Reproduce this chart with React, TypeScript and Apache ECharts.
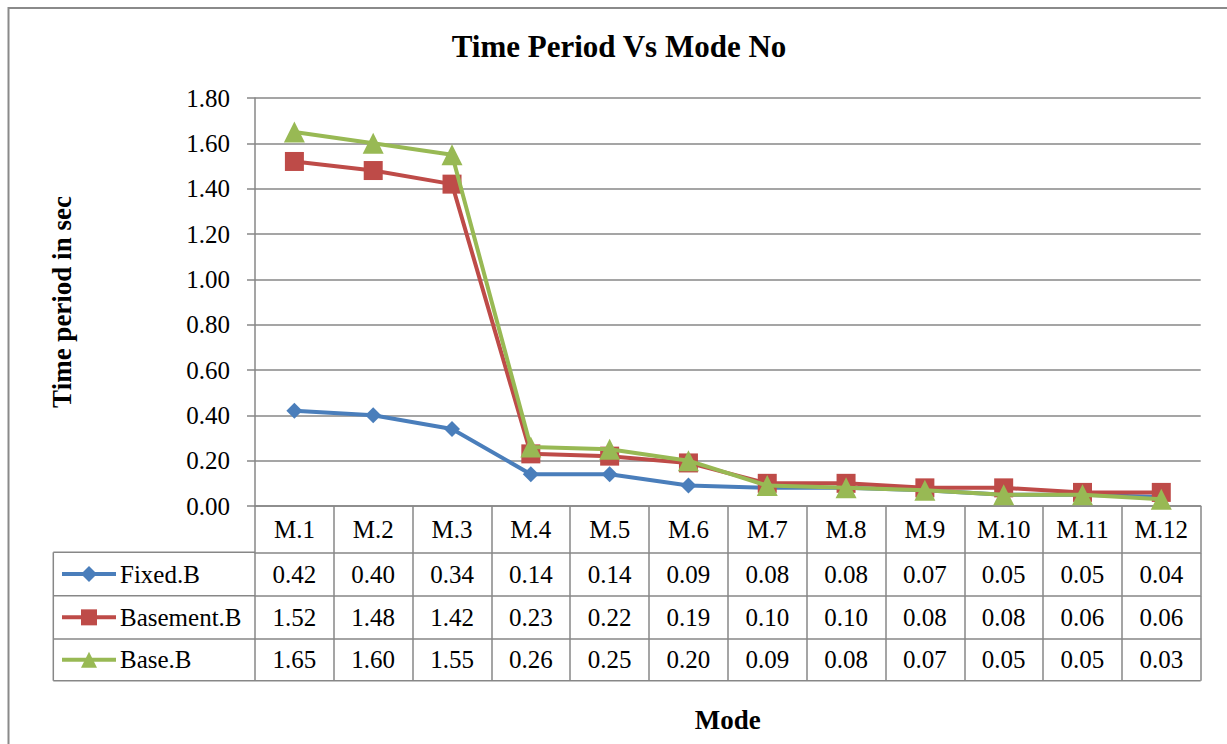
import React, { useEffect, useRef } from "react";
import * as echarts from "echarts";

const categories = ["M.1", "M.2", "M.3", "M.4", "M.5", "M.6", "M.7", "M.8", "M.9", "M.10", "M.11", "M.12"];
const fixedB = [0.42, 0.40, 0.34, 0.14, 0.14, 0.09, 0.08, 0.08, 0.07, 0.05, 0.05, 0.04];
const basementB = [1.52, 1.48, 1.42, 0.23, 0.22, 0.19, 0.10, 0.10, 0.08, 0.08, 0.06, 0.06];
const baseB = [1.65, 1.60, 1.55, 0.26, 0.25, 0.20, 0.09, 0.08, 0.07, 0.05, 0.05, 0.03];
const seriesNames = ["Fixed.B", "Basement.B", "Base.B"];
const yMin = 0;
const yMax = 1.8;
const yStep = 0.2;

const FONT = "'Liberation Serif', 'Times New Roman', serif";
const GRID_COLOR = "#878787";
const COLORS = ["#4A7EBB", "#BE4B48", "#98B954"];
const SYMBOLS = ["diamond", "rect", "triangle"];
const SYMBOL_SIZES = [16, 19, 21];

const PLOT_L = 255;
const PLOT_R = 1200.7;
const PLOT_T = 98;
const PLOT_B = 506;
const ROW_LINES = [506, 552.3, 595.7, 639, 680.7];
const TABLE_L = 53.3;

export default function App() {
  const ref = useRef<HTMLDivElement | null>(null);

  useEffect(() => {
    if (!ref.current) return;
    const chart = echarts.init(ref.current, null, { renderer: "svg" });
    const rows = [fixedB, basementB, baseB];

    const tableAxes = rows.map((vals, i) => {
      const top = ROW_LINES[i + 1];
      const h = ROW_LINES[i + 2] - top;
      return {
        type: "category" as const,
        gridIndex: 0,
        position: "bottom" as const,
        offset: top - PLOT_B,
        data: vals.map((v) => v.toFixed(2)),
        boundaryGap: true,
        axisLine: { show: true, lineStyle: { color: GRID_COLOR, width: 1.5 } },
        axisTick: { show: true, length: h, interval: 0, alignWithLabel: false, lineStyle: { color: GRID_COLOR, width: 1.5 } },
        axisLabel: { show: true, interval: 0, margin: h / 2, verticalAlign: "middle", color: "#000", fontFamily: FONT, fontSize: 25 },
        splitLine: { show: false },
      };
    });

    const legendItems = seriesNames.map((name, i) => {
      const center = (ROW_LINES[i + 1] + ROW_LINES[i + 2]) / 2;
      return {
        show: true,
        data: [name],
        left: 60,
        top: center - 12.5,
        padding: 0,
        itemWidth: 54,
        itemHeight: 20,
        itemGap: 0,
        selectedMode: false,
        lineStyle: { width: 4 },
        textStyle: { color: "#000", fontFamily: FONT, fontSize: 25, padding: [0, 0, 0, -1] },
      };
    });

    const graphicEls: any[] = [
      {
        type: "rect",
        shape: { x: 8.5, y: 8, width: 1300, height: 900 },
        style: { fill: "none", stroke: "#8a8a8a", lineWidth: 2 },
        silent: true,
      },
      {
        type: "text",
        x: 619,
        y: 46,
        style: {
          text: "Time Period Vs Mode No",
          fill: "#000",
          font: `bold 31px ${FONT}`,
          textAlign: "center",
          textVerticalAlign: "middle",
        },
        silent: true,
      },
      {
        type: "line",
        shape: { x1: TABLE_L, y1: ROW_LINES[1], x2: TABLE_L, y2: ROW_LINES[4] },
        style: { stroke: GRID_COLOR, lineWidth: 1.5 },
        silent: true,
      },
    ];
    [1, 2, 3].forEach((k) => {
      graphicEls.push({
        type: "line",
        shape: { x1: TABLE_L, y1: ROW_LINES[k], x2: PLOT_L, y2: ROW_LINES[k] },
        style: { stroke: GRID_COLOR, lineWidth: 1.5 },
        silent: true,
      });
    });
    graphicEls.push({
      type: "line",
      shape: { x1: TABLE_L, y1: ROW_LINES[4], x2: PLOT_R, y2: ROW_LINES[4] },
      style: { stroke: GRID_COLOR, lineWidth: 1.5 },
      silent: true,
    });

    chart.setOption({
      animation: false,
      backgroundColor: "#fff",
      grid: { left: PLOT_L, top: PLOT_T, width: PLOT_R - PLOT_L, height: PLOT_B - PLOT_T, containLabel: false },
      legend: legendItems,
      xAxis: [
        {
          type: "category",
          gridIndex: 0,
          position: "bottom",
          data: categories,
          boundaryGap: true,
          name: "Mode",
          nameLocation: "middle",
          nameGap: 720 - PLOT_B,
          nameTextStyle: { color: "#000", fontFamily: FONT, fontSize: 27, fontWeight: "bold", verticalAlign: "middle" },
          axisLine: { show: true, lineStyle: { color: GRID_COLOR, width: 1.5 } },
          axisTick: {
            show: true,
            length: ROW_LINES[1] - ROW_LINES[0],
            interval: 0,
            alignWithLabel: false,
            lineStyle: { color: GRID_COLOR, width: 1.5 },
          },
          axisLabel: {
            show: true,
            interval: 0,
            margin: (ROW_LINES[1] - ROW_LINES[0]) / 2,
            verticalAlign: "middle",
            color: "#000",
            fontFamily: FONT,
            fontSize: 25,
          },
          splitLine: { show: false },
        },
        ...tableAxes,
      ],
      yAxis: {
        type: "value",
        min: yMin,
        max: yMax,
        interval: yStep,
        name: "Time period in sec",
        nameLocation: "middle",
        nameRotate: 90,
        nameGap: PLOT_L - 62,
        nameTextStyle: { color: "#000", fontFamily: FONT, fontSize: 27, fontWeight: "bold", verticalAlign: "middle" },
        axisLine: { show: true, lineStyle: { color: GRID_COLOR, width: 1.5 } },
        axisTick: { show: true, length: 8, lineStyle: { color: GRID_COLOR, width: 1.5 } },
        axisLabel: {
          margin: 25,
          color: "#000",
          fontFamily: FONT,
          fontSize: 25,
          formatter: (v: number) => v.toFixed(2),
        },
        splitLine: { show: true, lineStyle: { color: GRID_COLOR, width: 1.5 } },
      },
      series: [fixedB, basementB, baseB].map((data, i) => ({
        name: seriesNames[i],
        type: "line",
        xAxisIndex: 0,
        yAxisIndex: 0,
        data,
        color: COLORS[i],
        symbol: SYMBOLS[i],
        symbolSize: SYMBOL_SIZES[i],
        showAllSymbol: true,
        lineStyle: { width: 4, color: COLORS[i] },
        itemStyle: { color: COLORS[i] },
        z: 2 + i,
      })),
      graphic: graphicEls,
    });

    return () => {
      chart.dispose();
    };
  }, []);

  return (
    <div
      ref={ref}
      style={{ position: "absolute", left: 0, top: 0, width: 1227, height: 744, background: "#fff" }}
    />
  );
}
